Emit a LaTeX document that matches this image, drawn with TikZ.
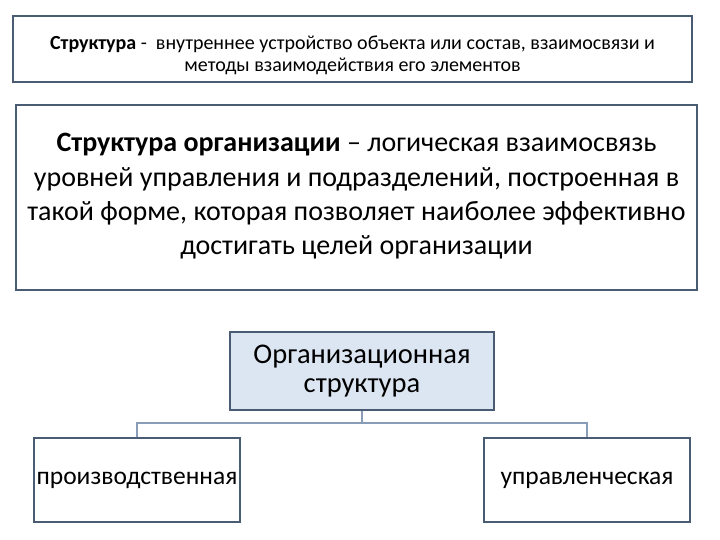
\documentclass[tikz,border=0pt]{standalone}
\usepackage{fontspec}
\setmainfont{Carlito}
\usetikzlibrary{positioning,calc}
\definecolor{boxline}{HTML}{4A5B74}
\definecolor{boxfill}{HTML}{DCE6F2}
\definecolor{linkline}{HTML}{8A9DB8}

\begin{document}
\begin{tikzpicture}[
  x=1pt, y=-1pt,
  frame/.style={rectangle, draw=boxline, line width=1.6pt, align=center, inner sep=0pt},
  link/.style={draw=linkline, line width=1.4pt}
]
\useasboundingbox (0,0) rectangle (720,540);

\node[frame, minimum width=679pt, minimum height=66pt] (defn) at (352.5,49) {};
\node[align=center, font=\fontsize{20}{22}\selectfont] (defntext) at (352.5,55)
  {\textbf{Структура} -~ внутреннее устройство объекта или состав, взаимосвязи и\\методы взаимодействия его элементов};
\node[frame, minimum width=681pt, minimum height=185pt] (orgdef) at (356.5,197.5) {};
\node[align=center, font=\fontsize{28}{34.3}\selectfont] (orgtext) at (356.5,196.5)
  {\textbf{Структура организации} -- логическая взаимосвязь\\уровней управления и подразделений, построенная в\\такой форме, которая позволяет наиболее эффективно\\достигать целей организации};

\node[frame, fill=boxfill, minimum width=264pt, minimum height=78pt, font=\fontsize{28.5}{29}\selectfont] (orgstr) at (362,371)
  {Организационная\\структура};
\node[frame, minimum width=206pt, minimum height=84pt, font=\fontsize{25.5}{26}\selectfont] (prod) at (137,480) {производственная};
\node[frame, minimum width=206pt, minimum height=84pt, font=\fontsize{25.5}{26}\selectfont] (mgmt) at (587,480) {управленческая};

\coordinate (fork) at ($(orgstr.south)+(0,12)$);
\draw[link] (orgstr.south) -- (fork);
\draw[link] (prod.north) |- (fork) -| (mgmt.north);
\end{tikzpicture}
\end{document}
